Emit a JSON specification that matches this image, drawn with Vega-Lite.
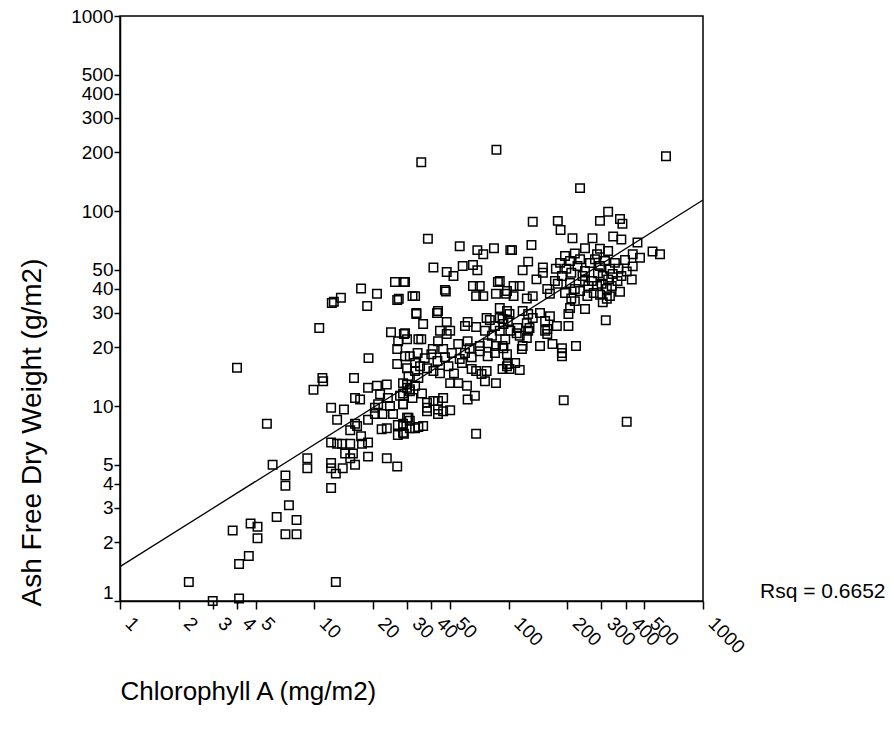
{
  "$schema": "https://vega.github.io/schema/vega-lite/v6.json",
  "width": 583,
  "height": 585,
  "autosize": {"type": "none"},
  "padding": {"left": 120, "top": 16, "right": 191, "bottom": 130},
  "background": "white",
  "config": {
    "font": "Liberation Sans",
    "view": {"stroke": "black", "strokeWidth": 1.5},
    "axis": {"domainColor": "black", "domainWidth": 1.5, "tickColor": "black", "tickWidth": 1.5, "tickSize": 8, "labelColor": "black", "titleColor": "black", "grid": false, "labelFont": "Liberation Sans", "titleFont": "Liberation Sans", "labelFontSize": 19, "titleFontSize": 26, "titleFontWeight": "normal", "labelOverlap": false, "labelBound": false, "labelFlush": false}
  },
  "layer": [
    {
      "data": {"values": [
        {"x":9.9,"y":12.1},{"x":11.1,"y":13.4},{"x":12.2,"y":9.8},{"x":13.1,"y":8.5},{"x":5.7,"y":8.1},{"x":12.2,"y":6.5},{"x":13.1,"y":6.4},{"x":6.1,"y":5.0},{"x":9.2,"y":5.4},{"x":9.2,"y":4.8},{"x":12.2,"y":5.1},{"x":12.2,"y":4.8},{"x":12.9,"y":4.5},{"x":7.1,"y":4.4},{"x":7.1,"y":3.9},{"x":12.2,"y":3.8},{"x":7.4,"y":3.1},{"x":6.4,"y":2.7},{"x":8.1,"y":2.6},{"x":4.7,"y":2.5},{"x":5.1,"y":2.4},{"x":3.8,"y":2.3},{"x":5.1,"y":2.1},{"x":7.1,"y":2.2},{"x":8.1,"y":2.2},{"x":4.6,"y":1.7},{"x":4.1,"y":1.55},{"x":2.26,"y":1.25},{"x":12.9,"y":1.25},{"x":3.0,"y":1.0},{"x":4.1,"y":1.03},{"x":4.0,"y":15.7},
        {"x":35.5,"y":178},{"x":86.5,"y":206},{"x":645,"y":191},{"x":233,"y":131},{"x":38.4,"y":72},{"x":133,"y":88},{"x":179,"y":89},{"x":185,"y":80},{"x":295,"y":89},{"x":325,"y":99},{"x":374,"y":91},{"x":385,"y":86},{"x":213,"y":72.5},{"x":270,"y":72.5},{"x":345,"y":74},{"x":380,"y":71.5},
        {"x":460,"y":69},{"x":550,"y":62},{"x":601,"y":60},{"x":435,"y":60},{"x":474,"y":57.5},{"x":397,"y":56},{"x":405,"y":49},{"x":435,"y":52},{"x":430,"y":44.5},{"x":374,"y":38.5},{"x":320,"y":35.5},{"x":305,"y":34},{"x":316,"y":27.5},{"x":295,"y":64},{"x":325,"y":62.4},{"x":285,"y":60},
        {"x":262,"y":54.1},{"x":278,"y":56.6},{"x":295,"y":52.2},{"x":313,"y":55.4},{"x":332,"y":50.5},{"x":352,"y":54.2},{"x":288,"y":48},{"x":305,"y":46.4},{"x":325,"y":44.6},{"x":343,"y":47.5},{"x":268,"y":43.8},{"x":285,"y":41.2},{"x":301,"y":42.3},{"x":320,"y":39.8},{"x":339,"y":41.2},{"x":363,"y":43.8},{"x":274,"y":38},{"x":295,"y":37.2},{"x":332,"y":36.6},{"x":247,"y":49.2},{"x":257,"y":41.2},{"x":367,"y":50.5},{"x":380,"y":46.4},
        {"x":104,"y":63},{"x":131,"y":67},{"x":247,"y":64.5},{"x":126,"y":55},{"x":118,"y":49.7},{"x":150,"y":51.3},{"x":150,"y":48.2},{"x":139,"y":44.6},{"x":90,"y":43.8},{"x":106,"y":41.2},{"x":114,"y":41.2},{"x":98,"y":38.9},{"x":106,"y":36.6},{"x":124,"y":35.6},{"x":133,"y":36.6},{"x":173,"y":43.8},{"x":179,"y":42.3},{"x":158,"y":39.8},{"x":163,"y":37.6},
        {"x":195,"y":58.8},{"x":207,"y":55.4},{"x":219,"y":60.6},{"x":233,"y":56.6},{"x":198,"y":50.5},{"x":210,"y":48.2},{"x":226,"y":52.2},{"x":240,"y":46.4},{"x":207,"y":42.7},{"x":219,"y":39.8},{"x":233,"y":38.9},{"x":195,"y":38},{"x":184,"y":54.2},{"x":188,"y":46.4},{"x":175,"y":50.5},{"x":247,"y":43.8},{"x":254,"y":36.6},
        {"x":210,"y":35.6},{"x":219,"y":34.5},{"x":203,"y":29.6},{"x":207,"y":31.8},{"x":247,"y":31.4},{"x":203,"y":25.7},
        {"x":98,"y":30.7},{"x":101,"y":29.6},{"x":93,"y":27.9},{"x":118,"y":30.7},{"x":126,"y":29.6},{"x":133,"y":28.3},{"x":124,"y":26.6},{"x":145,"y":30},{"x":154,"y":27.3},{"x":163,"y":28.9},{"x":111,"y":25.1},{"x":128,"y":25.1},{"x":158,"y":24.8},{"x":177,"y":25.7},
        {"x":145,"y":20.3},{"x":168,"y":20.8},{"x":188,"y":19.8},{"x":188,"y":18.7},{"x":188,"y":18},{"x":222,"y":20.3},{"x":158,"y":23.4},{"x":154,"y":24.3},{"x":110,"y":23.6},{"x":114,"y":22.9},{"x":126,"y":24.3},{"x":124,"y":22.3},{"x":118,"y":20.3},{"x":117,"y":19.6},{"x":93,"y":20.3},{"x":98,"y":18.4},{"x":93,"y":15.5},{"x":99,"y":16.4},{"x":108,"y":16.6},{"x":114,"y":15.3},{"x":101,"y":15.5},{"x":192,"y":10.7},{"x":405,"y":8.3},
        {"x":56,"y":66},{"x":69,"y":63},{"x":74,"y":60},{"x":84,"y":64.5},{"x":102,"y":63},{"x":41,"y":51.3},{"x":48,"y":48.7},{"x":52,"y":46.4},{"x":58,"y":52.2},{"x":65.5,"y":52.9},{"x":69,"y":49.7},{"x":29.3,"y":43.2},{"x":47,"y":39.4},{"x":47.5,"y":38.6},{"x":32,"y":36.6},{"x":65.5,"y":41.2},{"x":71,"y":41.2},{"x":68,"y":36.6},{"x":74,"y":36.6},{"x":88,"y":43.2},{"x":86,"y":37.6},{"x":97,"y":37.6},{"x":33.5,"y":30},{"x":36.3,"y":26.3},{"x":42.8,"y":30},{"x":43.3,"y":30.7},{"x":48,"y":27},{"x":59.6,"y":25.7},{"x":61.5,"y":27},{"x":68,"y":25.4},{"x":77,"y":28.3},{"x":80,"y":27.6},{"x":90,"y":31.8},{"x":90,"y":28.3},{"x":94,"y":26.3},{"x":99,"y":27.3},{"x":29.3,"y":23.6},{"x":30,"y":22},{"x":35.5,"y":22},{"x":44.3,"y":24.3},{"x":50,"y":24.3},{"x":43.3,"y":21.5},{"x":48,"y":23.4},{"x":55,"y":20.8},{"x":61.5,"y":21.5},{"x":63,"y":19.8},{"x":71,"y":20.3},{"x":86,"y":20.3},{"x":94,"y":19.8},{"x":40.7,"y":19.6},{"x":46,"y":19.6},
        {"x":75.5,"y":24.3},{"x":82,"y":22.9},{"x":90,"y":24.3},{"x":96,"y":22},{"x":78,"y":21},{"x":102,"y":24.3},{"x":85,"y":25.7},
        {"x":30,"y":15.6},{"x":30.5,"y":14.2},{"x":35,"y":16},{"x":38,"y":15.6},{"x":41,"y":15.1},{"x":44.3,"y":14.7},{"x":52.3,"y":14.7},{"x":50,"y":13.1},{"x":55,"y":13.1},{"x":61,"y":12.7},{"x":64.5,"y":15.5},{"x":68,"y":15.1},{"x":72.5,"y":14.6},{"x":77,"y":15.1},{"x":75.5,"y":13.4},{"x":86,"y":13.1},{"x":98,"y":16},{"x":28.6,"y":13.1},{"x":30,"y":12.4},{"x":31,"y":11.9},{"x":28.6,"y":11.6},{"x":35.8,"y":11.6},{"x":32,"y":11},{"x":28.6,"y":10.2},{"x":38,"y":10.4},{"x":38,"y":9.8},{"x":38,"y":9.4},{"x":41,"y":10.6},{"x":43.3,"y":10.6},{"x":46,"y":11},{"x":43.3,"y":9.6},{"x":43.3,"y":9.1},{"x":46,"y":9.4},{"x":50,"y":9.5},{"x":61.5,"y":10.8},{"x":67,"y":11.3},{"x":30,"y":8.7},{"x":31,"y":8.4},{"x":28.6,"y":7.9},{"x":33,"y":7.7},{"x":36.3,"y":7.9},{"x":28.6,"y":7.3},{"x":68,"y":7.2},
        {"x":31,"y":18},{"x":34,"y":18.7},{"x":37,"y":17.6},{"x":40,"y":18.4},{"x":43,"y":17},{"x":47,"y":17.8},{"x":51,"y":18.7},{"x":56,"y":17.4},{"x":59.6,"y":18.7},{"x":64.5,"y":17.8},{"x":71,"y":19.1},{"x":78,"y":18},{"x":85,"y":18.7},{"x":33,"y":16.6},{"x":49,"y":16},{"x":57.5,"y":16.6},
        {"x":26,"y":43.2},{"x":28.9,"y":43.2},{"x":17.4,"y":40},{"x":21,"y":37.6},{"x":13.7,"y":35.9},{"x":12.3,"y":33.7},{"x":12.6,"y":34.2},{"x":26.7,"y":35},{"x":27.2,"y":35.5},{"x":33,"y":36.6},{"x":18.7,"y":32.6},{"x":33.5,"y":29.6},{"x":10.6,"y":25.1},{"x":24.8,"y":23.9},{"x":28.9,"y":23.4},{"x":27,"y":21.5},{"x":26.7,"y":19.6},{"x":34.3,"y":22},{"x":19,"y":17.6},{"x":29.3,"y":18},{"x":26.7,"y":16.4},{"x":33,"y":15.1},{"x":34.3,"y":13.9},{"x":11,"y":13.9},{"x":16,"y":13.9},{"x":18.9,"y":12.4},{"x":21,"y":12.7},{"x":23.6,"y":12.9},{"x":30,"y":12.9},{"x":31,"y":12.2},{"x":33,"y":12.7},{"x":16.2,"y":11},{"x":17.2,"y":10.8},{"x":21.8,"y":11.5},{"x":21.3,"y":10.2},{"x":23.9,"y":11},{"x":24.5,"y":10},{"x":27.6,"y":11.3},{"x":28.6,"y":10.2},{"x":14.2,"y":9.6},{"x":20.5,"y":9.8},{"x":20.5,"y":9.1},{"x":16.2,"y":8.1},{"x":16.6,"y":7.9},{"x":18.9,"y":8.5},{"x":22.4,"y":9.1},{"x":25.4,"y":9.1},{"x":30.5,"y":8.7},{"x":22.2,"y":7.6},{"x":23.6,"y":7.7},{"x":26.9,"y":8},{"x":28.6,"y":8.1},{"x":31,"y":7.7},{"x":34.3,"y":7.8},{"x":26.9,"y":7.1},{"x":28.9,"y":7.2},{"x":15.3,"y":7.5},{"x":17.4,"y":7},{"x":13.9,"y":6.4},{"x":15.3,"y":6.4},{"x":17.6,"y":6.4},{"x":18.9,"y":6.5},{"x":15.8,"y":5.7},{"x":14.4,"y":5.7},{"x":15.3,"y":5.4},{"x":18.9,"y":5.5},{"x":23.6,"y":5.4},{"x":26.7,"y":4.9},{"x":14,"y":4.8},{"x":16.2,"y":5}
      ]},
      "mark": {"type": "point", "shape": "square", "filled": false, "stroke": "black", "strokeWidth": 1.5, "size": 72, "opacity": 1},
      "encoding": {
        "x": {"field": "x", "type": "quantitative",
          "scale": {"type": "log", "domain": [1, 1000], "nice": false, "zero": false},
          "axis": {"values": [1,2,3,4,5,10,20,30,40,50,100,200,300,400,500,1000], "format": "d",
            "labelAngle": 45, "labelAlign": "left", "labelBaseline": "middle", "labelOffset": 8, "labelPadding": 11,
            "title": "Chlorophyll A (mg/m2)", "titleAnchor": "start", "titleAlign": "left", "titleX": 0, "titleY": 98, "titleBaseline": "alphabetic"}},
        "y": {"field": "y", "type": "quantitative",
          "scale": {"type": "log", "domain": [1, 1000], "nice": false, "zero": false},
          "axis": {"values": [1,2,3,4,5,10,20,30,40,50,100,200,300,400,500,1000], "format": "d",
            "tickSize": 6, "labelPadding": 1,
            "labelOffset": {"condition": {"test": "datum.value == 1", "value": -9}, "value": 0},
            "title": "Ash Free Dry Weight (g/m2)", "titleFontSize": 28, "titleAngle": 270, "titleAlign": "left", "titleBaseline": "middle", "titleX": -88, "titleY": 590}}
      }
    },
    {
      "data": {"values": [{"x": 1, "y": 1.5}, {"x": 1000, "y": 113.8}]},
      "mark": {"type": "line", "color": "black", "strokeWidth": 1.3},
      "encoding": {
        "x": {"field": "x", "type": "quantitative"},
        "y": {"field": "y", "type": "quantitative"}
      }
    },
    {
      "data": {"values": [{"x": 1965, "y": 1.11, "label": "Rsq = 0.6652"}]},
      "mark": {"type": "text", "align": "left", "baseline": "middle", "fontSize": 21, "font": "Liberation Sans", "color": "black"},
      "encoding": {
        "x": {"field": "x", "type": "quantitative"},
        "y": {"field": "y", "type": "quantitative"},
        "text": {"field": "label"}
      }
    }
  ]
}
